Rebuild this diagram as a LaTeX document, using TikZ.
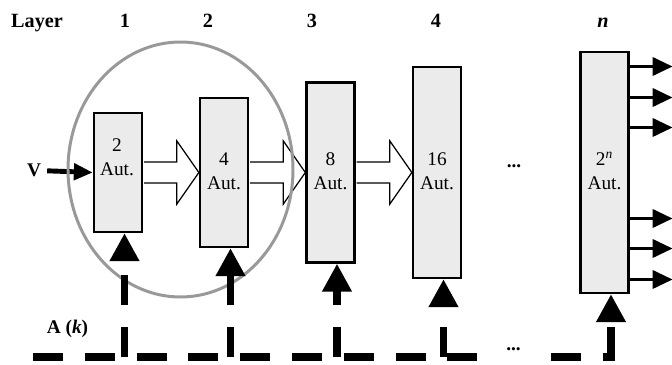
\documentclass[tikz,border=0pt]{standalone}
\usepackage{fontspec}
\setmainfont{Liberation Serif}
\usetikzlibrary{arrows.meta, calc}

\tikzset{
  autbox/.style={draw, line width=1.3pt, fill=black!8, minimum width=0.96cm, inner sep=0pt},
  auttext/.style={align=center, font=\fontsize{11}{13.6}\selectfont},
  layerlabel/.style={anchor=base, font=\fontsize{11.5}{13}\bfseries},
  hollowarrow/.style={draw, line width=0.7pt, fill=white, line join=miter},
  busline/.style={line width=4.5pt, dash pattern=on 17.07pt off 12.4pt},
}

\begin{document}
\begin{tikzpicture}[font=\fontsize{11}{13.6}\selectfont]
  \useasboundingbox (0,0) rectangle (13.44,7.30);

  % layer numbers
  \node[layerlabel] (layer) at (0.74,6.74) {Layer};
  \node[layerlabel] (l1) at (2.50,6.74) {1};
  \node[layerlabel] (l2) at (4.16,6.74) {2};
  \node[layerlabel] (l3) at (6.24,6.74) {3};
  \node[layerlabel] (l4) at (8.72,6.74) {4};
  \node[layerlabel] (ln) at (12.06,6.74) {\itshape n};

  % blocks of automata
  \node[autbox, minimum height=2.38cm] (b1) at (2.36,3.85) {};
  \node[autbox, minimum height=2.98cm] (b2) at (4.48,3.85) {};
  \node[autbox, minimum height=3.60cm] (b3) at (6.61,3.85) {};
  \node[autbox, minimum height=4.22cm] (b4) at (8.74,3.85) {};
  \node[autbox, minimum height=4.82cm] (bn) at (12.09,3.85) {};
  \node[auttext] (t1) at (2.34,4.15) {2\\Aut.};
  \node[auttext] (t2) at (4.48,3.88) {4\\Aut.};
  \node[auttext] (t3) at (6.61,3.88) {8\\Aut.};
  \node[auttext] (t4) at (8.74,3.88) {16\\Aut.};
  \node[auttext] (tn) at (12.09,3.88) {2\textsuperscript{\itshape n}\\Aut.};
  \node (dots1) at (10.28,3.94) [anchor=base] {\textbf{...}};

  % hollow arrows between layers
  \draw[hollowarrow] ($(b1.east)+(0.02,0.21)$) -- ($(b2.west)+(-0.44,0.21)$) -- ++(0,0.42)
    -- (b2.west) -- ++(-0.44,-0.63) -- ++(0,0.42) -- ($(b1.east)+(0.02,-0.21)$);
  \draw[hollowarrow] ($(b2.east)+(0.02,0.21)$) -- ($(b3.west)+(-0.44,0.21)$) -- ++(0,0.42)
    -- (b3.west) -- ++(-0.44,-0.63) -- ++(0,0.42) -- ($(b2.east)+(0.02,-0.21)$);
  \draw[hollowarrow] ($(b3.east)+(0.02,0.21)$) -- ($(b4.west)+(-0.44,0.21)$) -- ++(0,0.42)
    -- (b4.west) -- ++(-0.44,-0.63) -- ++(0,0.42) -- ($(b3.east)+(0.02,-0.21)$);

  % input
  \node[anchor=base] (v) at (0.68,3.76) {\textbf{V}};
  \draw[line width=2.8pt, -{Triangle[length=0.38cm, width=0.32cm]}] (v.east) -- (b1.west);

  % outputs of the last layer
  \draw[line width=2pt, -{Triangle[length=0.4cm, width=0.36cm]}] ($(bn.east)+(0,2.12)$) -- ++(0.86,0);
  \draw[line width=2pt, -{Triangle[length=0.4cm, width=0.36cm]}] ($(bn.east)+(0,1.50)$) -- ++(0.86,0);
  \draw[line width=2pt, -{Triangle[length=0.4cm, width=0.36cm]}] ($(bn.east)+(0,0.90)$) -- ++(0.86,0);
  \draw[line width=2pt, -{Triangle[length=0.4cm, width=0.36cm]}] ($(bn.east)+(0,-0.92)$) -- ++(0.86,0);
  \draw[line width=2pt, -{Triangle[length=0.4cm, width=0.36cm]}] ($(bn.east)+(0,-1.52)$) -- ++(0.86,0);
  \draw[line width=2pt, -{Triangle[length=0.4cm, width=0.36cm]}] ($(bn.east)+(0,-2.14)$) -- ++(0.86,0);

  % first two layers
  \draw[line width=1.7pt, black!40] (3.61,3.91) ellipse [x radius=2.25, y radius=2.55];

  % control bus A(k)
  \node[anchor=base] (ak) at (1.35,0.62) {\textbf{A (\textit{k})}};
  \coordinate (k0) at (0.66,0.16);
  \coordinate (kgap) at (9.9,0.16);
  \coordinate (kgap2) at (11.02,0.16);
  \coordinate (kn) at (12.30,0.16);
  \node (dots2) at (10.27,0.28) [anchor=base] {\textbf{...}};
  \draw[busline] (k0) -- (kgap);
  \draw[busline] (kgap2) -- (kn);

  \coordinate (u1) at ($(b1.south)+(0.13,0)$);
  \coordinate (u2) at ($(b2.south)+(0.13,0)$);
  \coordinate (u3) at ($(b3.south)+(0.13,0)$);
  \coordinate (u4) at ($(b4.south)+(0.13,0)$);
  \coordinate (un) at ($(bn.south)+(0.13,0)$);
  \draw[busline, -{Triangle[length=0.56cm, width=0.56cm]}] (u1 |- k0) -- (u1);
  \draw[busline, -{Triangle[length=0.56cm, width=0.56cm]}] (u2 |- k0) -- (u2);
  \draw[busline, -{Triangle[length=0.56cm, width=0.56cm]}] (u3 |- k0) -- (u3);
  \draw[busline, -{Triangle[length=0.56cm, width=0.56cm]}] (u4 |- k0) -- (u4);
  \draw[busline, -{Triangle[length=0.56cm, width=0.56cm]}] (un |- k0) -- (un);
\end{tikzpicture}
\end{document}
